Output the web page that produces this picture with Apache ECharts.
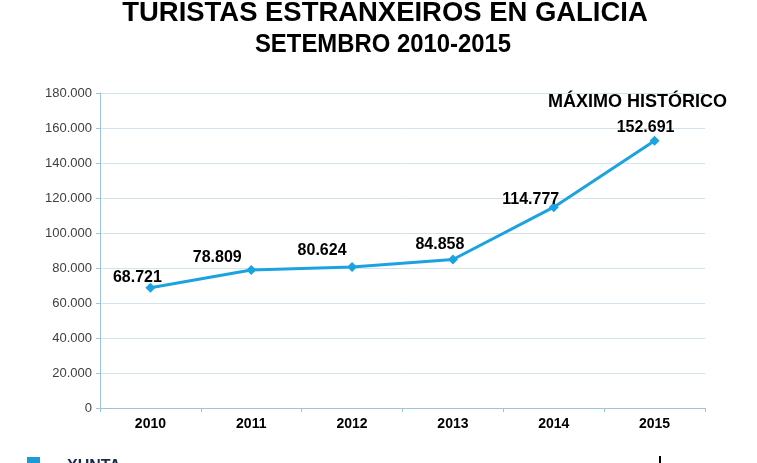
<!DOCTYPE html>
<html><head><meta charset="utf-8">
<script src="https://cdn.jsdelivr.net/npm/echarts@6/dist/echarts.min.js"></script>
<style>html,body{margin:0;padding:0;background:#fff}#c{width:757px;height:463px}</style>
</head><body><div id="c"></div>
<script>
const years = ['2010','2011','2012','2013','2014','2015'];
const tourists = [68721, 78809, 80624, 84858, 114777, 152691];
const yTicks = [0, 20000, 40000, 60000, 80000, 100000, 120000, 140000, 160000, 180000];
const titleText = 'TURISTAS ESTRANXEIROS EN GALICIA';
const subtitleText = 'SETEMBRO 2010-2015';
const noteText = 'MÁXIMO HISTÓRICO';

const labelOffsets = [[-13,-10],[-34,-12],[-30,-16],[-13,-15],[-23,-8],[-9,-13]];
function fmt(v){return String(v).replace(/\B(?=(\d{3})+(?!\d))/g,'.');}

const chart = echarts.init(document.getElementById('c'));
chart.setOption({
  backgroundColor:'#fff',
  animation:false,
  grid:{left:100,right:52,top:93,bottom:55,containLabel:false},
  xAxis:{type:'category',data:years,boundaryGap:true,
    axisLine:{lineStyle:{color:'#9ec4da',width:1}},
    axisTick:{show:true,alignWithLabel:false,length:4,lineStyle:{color:'#9ec4da'}},
    axisLabel:{color:'#000',fontWeight:'bold',fontSize:14,fontFamily:'Liberation Sans, Arial',margin:9}},
  yAxis:{type:'value',min:yTicks[0],max:yTicks[yTicks.length-1],interval:yTicks[1]-yTicks[0],
    axisLine:{show:true,lineStyle:{color:'#9ec4da'}},
    axisTick:{show:true,length:4,lineStyle:{color:'#9ec4da'}},
    splitLine:{lineStyle:{color:'#d3e3ec',width:1}},
    axisLabel:{color:'#404040',fontSize:13,fontFamily:'Liberation Sans, Arial',margin:8,formatter:v=>fmt(v)}},
  series:[{type:'line',
    data:tourists.map((v,i)=>({value:v,label:{offset:labelOffsets[i]}})),
    symbol:'diamond',symbolSize:10,
    lineStyle:{color:'#1ba3e1',width:3},
    itemStyle:{color:'#1ba3e1'},
    label:{show:true,position:'inside',color:'#000',fontWeight:'bold',fontSize:16,fontFamily:'Liberation Sans, Arial',formatter:p=>fmt(p.value)}
  }],
  graphic:[
    {type:'text',x:385,y:-1,scaleX:0.98,style:{text:titleText,font:'bold 28px "Liberation Sans", Arial',fill:'#000',textAlign:'center',textVerticalAlign:'top'}},
    {type:'text',x:383,y:33,scaleX:0.955,style:{text:subtitleText,font:'bold 25px "Liberation Sans", Arial',fill:'#000',textAlign:'center',textVerticalAlign:'top'}},
    {type:'text',left:548,top:93,style:{text:noteText,font:'bold 18px "Liberation Sans", Arial',fill:'#000'}},
    {type:'rect',left:27,top:457,shape:{width:13,height:10},style:{fill:'#1a9ad6'}},
    {type:'text',left:67,top:459,style:{text:'XUNTA',font:'bold 16px "Liberation Sans", Arial',fill:'#1a2a4a'}},
    {type:'rect',left:659,top:456,shape:{width:2,height:10},style:{fill:'#000'}}
  ]
});
</script></body></html>
